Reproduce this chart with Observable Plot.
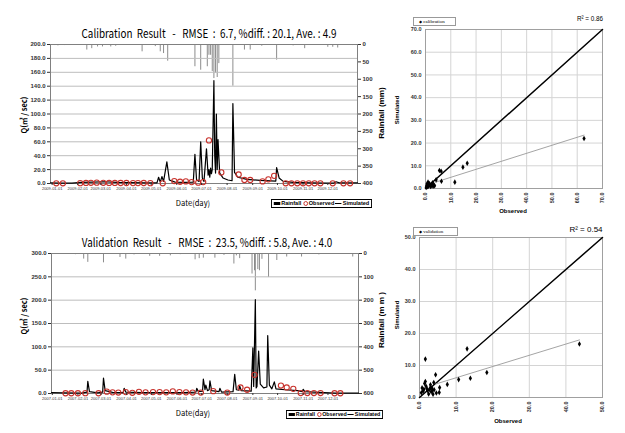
<!DOCTYPE html>
<html><head><meta charset="utf-8">
<script src="https://cdn.jsdelivr.net/npm/d3@7"></script>
<script src="https://cdn.jsdelivr.net/npm/@observablehq/plot@0.6"></script>
<style>
html,body{margin:0;padding:0;background:#fff;}
body{width:625px;height:433px;position:relative;overflow:hidden;font-family:"Liberation Sans",Arial,sans-serif;}
svg{position:absolute;overflow:visible;}
</style></head>
<body>
<script>
// ---------- DATA ----------
// Calibration (2009) time series: simulated flow, observed flow, rainfall
const calSim = [["2008-12-30",1.0],["2009-01-10",0.5],["2009-01-25",0.4],["2009-02-05",1.5],["2009-02-20",2.0],["2009-03-05",2.5],["2009-03-20",1.5],["2009-04-05",1.2],["2009-04-25",1.0],["2009-05-08",1.0],["2009-05-10",9],["2009-05-12",2],["2009-05-14",10],["2009-05-16",3],["2009-05-20",31],["2009-05-23",5],["2009-05-30",2],["2009-06-10",1.5],["2009-06-21",2],["2009-06-23",42],["2009-06-25",5],["2009-06-28",3],["2009-06-30",60],["2009-07-02",8],["2009-07-04",3],["2009-07-07",50],["2009-07-09",12],["2009-07-10",20],["2009-07-11",9],["2009-07-12",22],["2009-07-13",14],["2009-07-14",20],["2009-07-16",148],["2009-07-17",40],["2009-07-18",15],["2009-07-19",100],["2009-07-20",20],["2009-07-21",63],["2009-07-23",15],["2009-07-27",8],["2009-08-02",5],["2009-08-07",4],["2009-08-08",115],["2009-08-10",16],["2009-08-14",9],["2009-08-25",6],["2009-09-10",4.5],["2009-09-29",3.5],["2009-09-30",23],["2009-10-03",8],["2009-10-08",3],["2009-10-20",1.5],["2009-11-10",1],["2009-11-30",0.6],["2009-12-08",0.5],["2009-12-11",2.5],["2009-12-15",1],["2009-12-25",0.8],["2010-01-06",0.8]];
const calObs = [["2009-01-06",0.3],["2009-01-14",0.3],["2009-02-04",0.5],["2009-02-11",0.8],["2009-02-17",1.0],["2009-02-24",1.2],["2009-03-04",1.0],["2009-03-11",0.8],["2009-03-18",0.8],["2009-03-25",0.7],["2009-04-01",0.7],["2009-04-09",0.6],["2009-04-15",0.6],["2009-04-22",0.7],["2009-04-30",0.5],["2009-05-15",0.3],["2009-05-29",3.5],["2009-06-05",2.5],["2009-06-12",3.0],["2009-06-19",2.0],["2009-06-27",1.2],["2009-07-03",2.0],["2009-07-10",62],["2009-07-25",16],["2009-08-15",13],["2009-08-22",5],["2009-08-29",5],["2009-09-13",3],["2009-09-20",6],["2009-09-27",11],["2009-10-11",0.3],["2009-10-18",0.3],["2009-10-25",0.3],["2009-11-01",0.3],["2009-11-08",0.3],["2009-11-15",0.3],["2009-11-22",0.3],["2009-12-07",0.3],["2009-12-20",0.3],["2009-12-28",0.3]];
const calRain = [["2009-01-04",3],["2009-01-08",4],["2009-01-16",3],["2009-01-20",2],["2009-02-12",16],["2009-02-18",12],["2009-02-25",7],["2009-03-03",7],["2009-03-13",7],["2009-03-19",5],["2009-04-20",21],["2009-05-06",6],["2009-05-12",21],["2009-05-16",26],["2009-05-21",48],["2009-06-23",64],["2009-06-30",74],["2009-07-08",64],["2009-07-10",31],["2009-07-12",31],["2009-07-14",78],["2009-07-16",98],["2009-07-18",83],["2009-07-20",95],["2009-07-22",55],["2009-08-08",120],["2009-08-22",16],["2009-08-29",16],["2009-09-12",5],["2009-09-30",45],["2009-10-20",4],["2009-11-03",12],["2009-12-01",8],["2009-12-07",8],["2009-12-13",10],["2009-12-31",3]];

// Validation (2007) time series
const valSim = [["2006-12-31",2],["2007-01-15",1.5],["2007-02-05",1.0],["2007-02-12",3],["2007-02-13",26],["2007-02-15",4],["2007-02-25",1.5],["2007-03-03",3],["2007-03-04",33],["2007-03-06",6],["2007-03-15",2.5],["2007-03-28",2],["2007-03-29",11],["2007-03-31",3],["2007-04-20",2],["2007-05-20",2],["2007-06-10",2],["2007-06-24",3],["2007-06-25",11],["2007-06-27",4],["2007-07-02",5],["2007-07-03",31],["2007-07-05",8],["2007-07-06",18],["2007-07-08",6],["2007-07-10",8],["2007-07-11",27],["2007-07-13",6],["2007-07-22",4],["2007-07-23",11],["2007-07-25",3],["2007-08-08",4],["2007-08-10",41],["2007-08-12",8],["2007-08-15",7],["2007-08-16",16],["2007-08-18",6],["2007-08-30",5],["2007-09-01",98],["2007-09-02",15],["2007-09-04",201],["2007-09-05",12],["2007-09-06",15],["2007-09-08",91],["2007-09-10",20],["2007-09-14",12],["2007-09-18",14],["2007-09-19",124],["2007-09-21",18],["2007-09-24",10],["2007-09-27",25],["2007-09-29",10],["2007-10-10",8],["2007-10-25",6],["2007-10-31",4],["2007-11-01",9],["2007-11-03",4],["2007-11-20",2.5],["2007-12-10",1],["2007-12-25",1],["2008-01-07",0.8]];
const valObs = [["2007-01-17",0.5],["2007-01-24",0.5],["2007-02-01",0.5],["2007-02-10",0.8],["2007-02-26",0.5],["2007-03-08",4],["2007-03-15",2.5],["2007-03-22",2],["2007-03-31",3],["2007-04-08",1.5],["2007-04-16",3.5],["2007-04-24",2.5],["2007-05-03",3],["2007-05-11",3],["2007-05-19",2.5],["2007-05-27",4.5],["2007-06-04",3],["2007-06-12",2.5],["2007-06-20",2],["2007-06-30",2],["2007-07-15",5],["2007-08-01",2],["2007-08-17",13],["2007-08-25",8],["2007-09-03",40],["2007-10-05",17],["2007-10-12",13],["2007-10-20",10],["2007-10-29",1],["2007-11-06",1],["2007-11-14",1],["2007-11-22",1],["2007-12-09",0.5],["2007-12-16",0.5]];
const valRain = [["2007-01-03",3],["2007-01-29",5],["2007-02-08",24],["2007-02-13",38],["2007-03-04",40],["2007-03-24",17],["2007-03-31",24],["2007-04-10",6],["2007-04-29",12],["2007-05-11",12],["2007-05-24",10],["2007-06-05",5],["2007-06-23",27],["2007-06-28",22],["2007-07-03",20],["2007-07-17",20],["2007-07-28",8],["2007-08-09",45],["2007-08-12",10],["2007-08-16",22],["2007-08-31",88],["2007-09-03",74],["2007-09-04",160],["2007-09-07",69],["2007-09-09",74],["2007-09-12",25],["2007-09-20",103],["2007-09-30",30],["2007-10-12",15],["2007-10-30",15],["2007-11-20",6],["2007-12-31",15]];

// Scatter: [observed, simulated]
const calPoints = [[0.3,0.5],[0.5,1.2],[0.8,0.8],[1.0,1.8],[1.2,1.0],[1.5,2.2],[1.8,1.5],[2.0,0.9],[2.3,1.8],[2.5,1.2],[2.8,2.5],[3.0,1.0],[3.3,1.6],[3.6,1.2],[1.0,2.8],[0.6,2.0],[4.2,3.8],[5.5,7.9],[6.2,7.6],[6.3,3.2],[11.6,2.8],[14.8,9.4],[16.5,11.1],[62.7,22.0]];
const calOneToOne = [[0,0],[70,70]];
const calTrend = [[4,2.8],[62.7,23.5]];
const valPoints = [[0.5,1.5],[0.7,3.0],[1.0,2.0],[1.2,2.6],[1.4,4.4],[1.6,5.0],[1.6,12.0],[1.8,3.5],[2.0,2.8],[2.2,2.2],[2.5,1.1],[2.7,2.5],[3.0,3.1],[3.0,4.0],[3.2,1.8],[3.4,2.9],[3.5,2.1],[3.7,1.0],[3.9,4.7],[4.0,2.4],[4.4,7.1],[4.6,1.4],[5.5,3.1],[5.4,1.6],[7.6,4.1],[10.7,5.6],[13.0,15.2],[13.9,6.0],[18.4,7.8],[43.7,16.7]];
const valOneToOne = [[0,0],[50,50]];
const valTrend = [[4.4,4.2],[43.7,18.0]];

// Texts
const calTitle = "Calibration  Result   -   RMSE  :  6.7, %diff. : 20.1, Ave. : 4.9";
const valTitle = "Validation  Result   -   RMSE  :  23.5, %diff. : 5.8, Ave. : 4.0";
const flowLabel = "Q(㎥ / sec)";
const rainLabelTop = "Rainfall (mm)";
const rainLabelBot = "Rainfall (m m )";
const dateLabel = "Date(day)";
const legendNames = ["Rainfall","Observed","Simulated"];
const calR2 = "R² = 0.86";
const valR2 = "R² = 0.54";

// ---------- HELPERS ----------
const FONT = "'Liberation Sans', Arial, sans-serif";
const KFONT = "'Noto Sans CJK KR','Noto Sans',sans-serif";
const parse = d3.utcParse("%Y-%m-%d");
const fmtDate = d3.utcFormat("%Y-%m-%d");

function put(svg, x, y){ svg.style.left = x+"px"; svg.style.top = y+"px"; document.body.appendChild(svg); }

function text(t, cx, cy, o={}){
  const d = document.createElement("div");
  d.textContent = t;
  d.style.cssText = `position:absolute;left:${cx}px;top:${cy}px;white-space:pre;line-height:1;font-size:${o.size||8}px;font-weight:${o.weight||"bold"};font-family:${o.family||FONT};color:${o.color||"#000"};`;
  document.body.appendChild(d);
  const k = o.fitW ? o.fitW / d.offsetWidth : 1;
  d.style.transform = `translate(-50%,-50%) rotate(${o.rotate||0}deg) scaleX(${k})`;
  return d;
}

function tsLegend(x, y, w){
  const wrap = document.createElement("div");
  wrap.style.cssText = `position:absolute;left:${x}px;top:${y}px;height:10px;line-height:0;font-size:0;`;
  const inner = document.createElement("div");
  inner.style.cssText = `display:flex;width:max-content;align-items:center;border:1px solid #000;height:7px;padding:0 2px;font:bold 6px ${FONT};line-height:7px;white-space:nowrap;background:#fff;transform-origin:0 0;box-sizing:content-box;`;
  inner.innerHTML = `<span style="display:inline-block;width:7px;height:3px;background:#000;margin-right:1px"></span><span>${legendNames[0]}</span>` +
    `<span style="display:inline-block;width:3px;height:3px;border:1px solid #c8322c;border-radius:50%;margin:0 1px 0 2px"></span><span>${legendNames[1]}</span>` +
    `<span style="display:inline-block;width:7px;height:1px;background:#000;margin:0 1px"></span><span>${legendNames[2]}</span>`;
  wrap.appendChild(inner);
  document.body.appendChild(wrap);
  inner.style.transform = `scaleX(${w / inner.offsetWidth})`;
}

function tsCharts(o){
  const W = 395;
  const xdom = [parse(o.x0), parse(o.x1)];
  const months = d3.utcMonth.range(parse(o.m0), parse(o.m1));
  const common = {width:W, height:o.h, marginLeft:o.ml, marginRight:W-o.xr, marginTop:o.mt, marginBottom:o.mb,
    style:{background:"transparent", fontFamily:FONT, overflow:"visible"}};
  const rainPlot = Plot.plot({...common,
    x:{type:"utc", domain:xdom, axis:null},
    y:{domain:[0,o.rMax], reverse:true, axis:null},
    marks:[
      Plot.ruleX(o.rain, {x:d=>parse(d[0]), y1:d=>0, y2:d=>d[1], stroke:"#6e6e6e", strokeWidth:0.8}),
      Plot.axisY(d3.range(0,o.rMax+1,o.rStep), {anchor:"right", tickSize:3, tickPadding:2, fontSize:6, fontWeight:"bold", tickFormat:d=>String(d), label:null, color:"#333"})
    ]});
  const flowPlot = Plot.plot({...common,
    x:{type:"utc", domain:xdom, axis:null},
    y:{domain:[0,o.yMax], axis:null},
    marks:[
      Plot.gridY(d3.range(0,o.yMax+1,o.yStep), {stroke:"#bdbdbd", strokeOpacity:1}),
      Plot.frame({stroke:"#808080"}),
      Plot.line(o.sim, {x:d=>parse(d[0]), y:d=>d[1], stroke:"#000", strokeWidth:1.2}),
      Plot.dot(o.obs, {x:d=>parse(d[0]), y:d=>d[1], r:2.6, stroke:"#c8322c", strokeWidth:1.1, fill:"none"}),
      Plot.axisY(d3.range(0,o.yMax+1,o.yStep), {anchor:"left", tickSize:3, tickPadding:2, fontSize:6, fontWeight:"bold", tickFormat:d=>d.toFixed(1), label:null, color:"#333"}),
      Plot.axisX(months, {anchor:"bottom", tickSize:2, tickPadding:2, fontSize:4, tickFormat:fmtDate, label:null, color:"#333"})
    ]});
  put(rainPlot, 0, o.top);
  put(flowPlot, 0, o.top);
}

function scatter(o){
  const W = 245;
  const ticks = d3.range(0, o.max+1, 10);
  const p = Plot.plot({width:W, height:o.h, marginLeft:o.ml, marginRight:o.mr, marginTop:o.mt, marginBottom:o.mb,
    style:{background:"transparent", fontFamily:FONT, overflow:"visible"},
    x:{domain:[0,o.max], axis:null}, y:{domain:[0,o.max], axis:null},
    marks:[
      Plot.gridX(ticks, {stroke:"#d4d4d4", strokeOpacity:1}),
      Plot.gridY(ticks, {stroke:"#d4d4d4", strokeOpacity:1}),
      Plot.frame({stroke:"#a0a0a0"}),
      Plot.line(o.one, {x:d=>d[0], y:d=>d[1], stroke:"#000", strokeWidth:1.5}),
      Plot.line(o.trend, {x:d=>d[0], y:d=>d[1], stroke:"#9a9a9a", strokeWidth:0.9}),
      Plot.dot(o.pts, {x:d=>d[0], y:d=>d[1], symbol:"diamond", r:1.7, fill:"#000"}),
      Plot.axisY(ticks, {anchor:"left", tickSize:0, tickPadding:4, fontSize:5.5, fontWeight:"bold", tickFormat:d=>d.toFixed(1), label:null, color:"#333"}),
      Plot.axisX(ticks, {anchor:"bottom", tickSize:0, tickPadding:4, tickRotate:-90, fontSize:5.5, fontWeight:"bold", tickFormat:d=>d.toFixed(1), label:null, color:"#333"})
    ]});
  put(p, 380, o.top);
}

function scatterLegend(x, y, w, name){
  const d = document.createElement("div");
  d.style.cssText = `position:absolute;left:${x}px;top:${y}px;width:${w}px;height:9px;border:1px solid #999;font:5px 'Liberation Serif',serif;line-height:7px;white-space:nowrap;box-sizing:border-box;padding-left:5px;`;
  d.innerHTML = `<span style="font-size:4px">◆</span> ${name}`;
  document.body.appendChild(d);
}

// ---------- BUILD ----------
tsCharts({sim:calSim, obs:calObs, rain:calRain, x0:"2008-12-30", x1:"2010-01-06", m0:"2009-01-01", m1:"2010-01-01",
  yMax:200, yStep:20, rMax:400, rStep:50, top:0, h:215, ml:50, xr:357, mt:44, mb:32});
tsCharts({sim:valSim, obs:valObs, rain:valRain, x0:"2006-12-31", x1:"2008-01-07", m0:"2007-01-01", m1:"2008-01-01",
  yMax:300, yStep:50, rMax:600, rStep:100, top:215, h:218, ml:51, xr:358, mt:38, mb:40});

scatter({pts:calPoints, one:calOneToOne, trend:calTrend, max:70, top:0, h:215, ml:45, mr:23, mt:29, mb:27});
scatter({pts:valPoints, one:valOneToOne, trend:valTrend, max:50, top:215, h:218, ml:39, mr:23, mt:22, mb:36});

// titles & labels
text(calTitle, 209, 33, {size:12, weight:"normal", family:KFONT, fitW:255});
text(valTitle, 207, 242, {size:12, weight:"normal", family:KFONT, fitW:250});
text(flowLabel, 24, 115, {size:8, rotate:-90, family:KFONT, fitW:37});
text(flowLabel, 24, 316, {size:8, rotate:-90, family:KFONT, fitW:37});
text(rainLabelTop, 382, 113, {size:8, rotate:-90, fitW:52});
text(rainLabelBot, 382, 320, {size:8, rotate:-90, fitW:56});
text(dateLabel, 193, 203, {size:8, weight:"normal", family:KFONT, fitW:34});
text(dateLabel, 193, 413, {size:8, weight:"normal", family:KFONT, fitW:34});
tsLegend(271, 199, 101);
tsLegend(286, 410, 97);

text("Simulated", 397, 110, {size:6, rotate:-90});
text("Observed", 513, 211, {size:6});
text("Simulated", 397, 315, {size:6, rotate:-90});
text("Observed", 508, 421, {size:6});
scatterLegend(413, 17, 43, "calibration");
scatterLegend(413, 227, 45, "validation");
text(calR2, 590, 19, {size:8, weight:"normal", fitW:26});
text(valR2, 586, 230, {size:8, weight:"normal", fitW:33});
</script>
</body></html>
